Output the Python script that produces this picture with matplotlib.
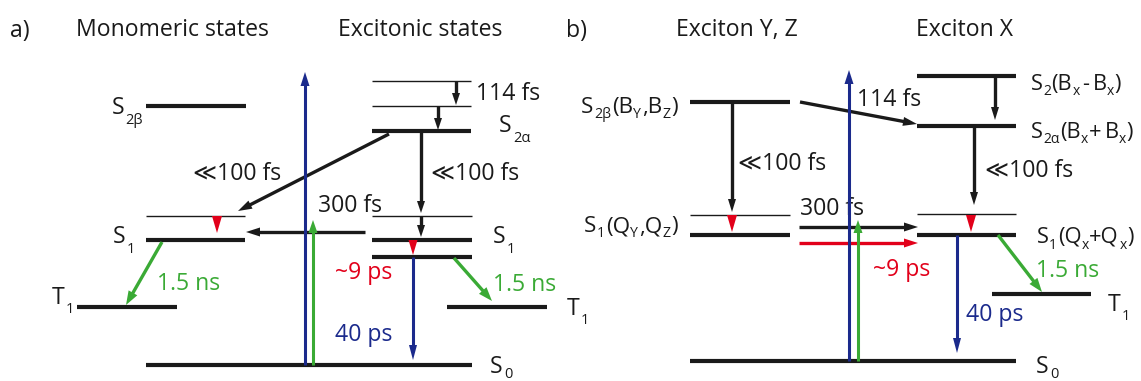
import numpy as np
import matplotlib
matplotlib.use("Agg")
import matplotlib.pyplot as plt
from matplotlib.patches import Polygon

# ---------------------------------------------------------------------------
# Level energies (diagram units, measured upward; 1 unit = 1 px of canvas)
# ---------------------------------------------------------------------------
# a) monomeric states: S2beta, hot S1, S1, T1
a_mono_E = [275, 165, 141, 74]
# a) excitonic states: S2 vib. 2, S2 vib. 1, S2alpha, hot S1, S1, lower S1, T1
a_exc_E = [300, 275, 250, 165, 141, 124, 74]
a_S0 = 16
# b) exciton Y,Z: S2beta, hot S1, S1
b_yz_E = [279, 166, 146]
# b) exciton X: S2(-), S2alpha(+), hot S1, S1, T1
b_x_E = [305, 255, 167, 146, 87]
b_S0 = 20

# pump (blue) and probe (green) photon energies above S0
pump_E = [293, 291]
probe_E = [145, 141]

# time constants
tau_ic2 = "114 fs"
tau_fast = "\u226a100 fs"
tau_et = "300 fs"
tau_relax = "~9 ps"
tau_s1 = "40 ps"
tau_isc = "1.5 ns"

titles_a = ["Monomeric states", "Excitonic states"]
titles_b = ["Exciton Y, Z", "Exciton X"]

# ---------------------------------------------------------------------------
W, H = 1141, 381
fig = plt.figure(figsize=(W / 100, H / 100), dpi=100)
ax = fig.add_axes([0, 0, 1, 1])
ax.set_xlim(0, W)
ax.set_ylim(0, H)
ax.axis("off")

BLACK = "#1a1a1a"
BLUE = "#1b2a8c"
GREEN = "#3aaa35"
RED = "#e2001a"
FAMILY = ["Open Sans", "DejaVu Sans"]
MAIN = 16.6
SUB = 10.5
LW_THICK = 3.0
LW_THIN = 1.0
LW_ARROW = 2.4

renderer = fig.canvas.get_renderer()


def level(x0, x1, E, thick=True):
    ax.plot([x0, x1], [E, E], color=BLACK, lw=LW_THICK if thick else LW_THIN,
            solid_capstyle="butt", zorder=2)


def head(x, y, ux, uy, length, width, color, z):
    bx, by = x - ux * length, y - uy * length
    nx, ny = -uy, ux
    pts = [(x, y), (bx + nx * width / 2, by + ny * width / 2),
           (bx - nx * width / 2, by - ny * width / 2)]
    ax.add_patch(Polygon(pts, closed=True, facecolor=color, edgecolor="none", zorder=z))


def arrow(x0, y0, x1, y1, color=BLACK, lw=LW_ARROW, hl=12, hw=9, z=4):
    d = np.hypot(x1 - x0, y1 - y0)
    ux, uy = (x1 - x0) / d, (y1 - y0) / d
    ax.plot([x0, x1 - ux * hl * 0.8], [y0, y1 - uy * hl * 0.8], color=color, lw=lw,
            solid_capstyle="butt", zorder=z)
    head(x1, y1, ux, uy, hl, hw, color, z)


def text(x, y, s, color=BLACK, ha="left", size=MAIN):
    ax.text(x, y, s, color=color, ha=ha, va="baseline", fontsize=size,
            family=FAMILY, zorder=3)


def rich(x, y, parts, ha="left", drop=10, color=BLACK, gap=1.2, scale=1.0):
    """Label built from main-size and subscript pieces, laid out left to right."""
    arts = []
    for p in parts:
        s, sub = p[0], p[1]
        extra = p[2] if len(p) > 2 else 0
        t = ax.text(0, 0, s, color=color, ha="left", va="baseline",
                    fontsize=(SUB if sub else MAIN) * scale, family=FAMILY, zorder=3)
        arts.append((t, sub, extra))
    widths = [a[0].get_window_extent(renderer).width for a in arts]
    total = sum(widths) + sum(a[2] for a in arts) + gap * (len(arts) - 1)
    cx = x - total if ha == "right" else x
    for (t, sub, extra), w in zip(arts, widths):
        cx += extra
        t.set_position((cx, y - drop if sub else y))
        cx += w + gap


# ---------------------------------------------------------------------------
# Panel a
# ---------------------------------------------------------------------------
text(10, 344, "a)")
text(172, 345, titles_a[0], ha="center")
text(420, 345, titles_a[1], ha="center")

# monomeric levels
level(146, 246, a_mono_E[0])
level(146, 245, a_mono_E[1], thick=False)
level(146, 245, a_mono_E[2])
level(77, 177, a_mono_E[3])
# excitonic levels
level(372, 471, a_exc_E[0], thick=False)
level(372, 471, a_exc_E[1], thick=False)
level(372, 471, a_exc_E[2])
level(372, 472, a_exc_E[3], thick=False)
level(372, 472, a_exc_E[4])
level(372, 472, a_exc_E[5])
level(447, 547, a_exc_E[6])
level(146, 472, a_S0)

# pump and probe
arrow(305, a_S0, 305, a_S0 + pump_E[0], BLUE, lw=2.2, hl=14, hw=9, z=6)
arrow(313, a_S0, 313, a_S0 + probe_E[0], GREEN, lw=2.2, hl=13, hw=9, z=6)

# relaxation within the S2 manifold
arrow(456, a_exc_E[0], 456, a_exc_E[1] + 1, hl=12, hw=8)
arrow(438, a_exc_E[1], 438, a_exc_E[2] + 1, hl=12, hw=8)
# S2alpha -> monomeric hot S1
arrow(389, a_exc_E[2] - 3, 238, a_mono_E[1] + 5, hl=14, hw=9)
# S2alpha -> excitonic S1
arrow(421, a_exc_E[2], 421, a_exc_E[3] + 3, hl=12, hw=8)
arrow(421, a_exc_E[3], 421, a_exc_E[4] + 3, hl=12, hw=8)
# vibrational cooling (red)
head(217, a_mono_E[2] + 7, 0, -1, 17, 10, RED, 5)
head(413, a_exc_E[5] + 2, 0, -1, 15, 9, RED, 5)
# exciton -> monomer transfer
arrow(365, a_mono_E[2] + 8, 246, a_mono_E[2] + 8, hl=14, hw=9)
# intersystem crossing
arrow(162, a_mono_E[2] - 2, 126, a_mono_E[3] + 2, GREEN, hl=14, hw=10)
arrow(454, a_exc_E[5] - 1, 492, a_exc_E[6] + 6, GREEN, hl=14, hw=10)
# S1 decay
arrow(413, a_exc_E[5], 413, a_S0 + 5, BLUE, lw=2.2, hl=15, hw=8)

# labels
rich(143, 267, [("S", 0), ("2\u03b2", 1)], ha="right")
text(476, 281, tau_ic2)
rich(499, 249, [("S", 0), ("2\u03b1", 1)])
text(193, 201, tau_fast)
text(431, 201, tau_fast)
text(318, 169, tau_et)
rich(113, 138, [("S", 0), ("1", 1)])
rich(493, 138, [("S", 0), ("1", 1)])
text(157, 91, tau_isc, color=GREEN)
text(493, 90, tau_isc, color=GREEN)
text(335, 102, tau_relax, color=RED)
text(335, 40, tau_s1, color=BLUE)
rich(52, 77, [("T", 0), ("1", 1)], drop=9)
rich(567, 66, [("T", 0), ("1", 1)], drop=9)
rich(490, 8, [("S", 0), ("0", 1)], drop=5)

# ---------------------------------------------------------------------------
# Panel b
# ---------------------------------------------------------------------------
text(566, 344, "b)")
text(737, 345, titles_b[0], ha="center")
text(964, 345, titles_b[1], ha="center")

level(690, 790, b_yz_E[0])
level(690, 790, b_yz_E[1], thick=False)
level(690, 790, b_yz_E[2])
level(917, 1016, b_x_E[0])
level(917, 1016, b_x_E[1])
level(917, 1016, b_x_E[2], thick=False)
level(917, 1016, b_x_E[3])
level(992, 1091, b_x_E[4])
level(690, 1016, b_S0)

arrow(849, b_S0, 849, b_S0 + pump_E[1], BLUE, lw=2.2, hl=14, hw=9, z=6)
arrow(858, b_S0, 858, b_S0 + probe_E[1], GREEN, lw=2.2, hl=13, hw=9, z=6)

arrow(995, b_x_E[0], 995, b_x_E[1] + 6, hl=13, hw=8)
arrow(800, b_yz_E[0], 917, b_x_E[1] + 2, hl=14, hw=9)
arrow(732, b_yz_E[0], 732, b_yz_E[1] + 3, hl=13, hw=8)
arrow(974, b_x_E[1], 974, b_x_E[2] + 9, hl=13, hw=8)
head(732, b_yz_E[2] + 3, 0, -1, 17, 10, RED, 5)
head(971, b_x_E[3] + 3, 0, -1, 17, 10, RED, 5)
arrow(799, b_yz_E[2] + 8, 918, b_yz_E[2] + 8, hl=14, hw=9)
arrow(799, b_yz_E[2] - 8, 918, b_yz_E[2] - 8, RED, hl=14, hw=9)
arrow(998, b_x_E[3], 1042, b_x_E[4] + 2, GREEN, hl=14, hw=10)
arrow(957, b_x_E[3], 957, b_S0 + 8, BLUE, lw=2.2, hl=15, hw=8)

rich(678, 268, [("S", 0), ("2\u03b2", 1), ("(B", 0), ("Y", 1), (",B", 0), ("Z", 1), (")", 0)],
     ha="right", drop=5, gap=0.6, scale=0.97)
text(857, 275, tau_ic2)
rich(1031, 291, [("S", 0), ("2", 1), ("(B", 0), ("x", 1), ("-", 0, 2), ("B", 0, 3),
                 ("x", 1), (")", 0)], drop=5, gap=0.4, scale=0.95)
rich(1031, 243, [("S", 0), ("2\u03b1", 1), ("(B", 0), ("x", 1), ("+", 0),
                 ("B", 0, 3), ("x", 1), (")", 0)], drop=5, gap=0.4, scale=0.95)
text(738, 211, tau_fast)
text(985, 204, tau_fast)
rich(678, 149, [("S", 0), ("1", 1), ("(Q", 0), ("Y", 1), (",Q", 0), ("Z", 1), (")", 0)],
     ha="right", drop=5, gap=0.6, scale=0.97)
text(800, 166, tau_et)
rich(1037, 138, [("S", 0), ("1", 1), ("(Q", 0), ("x", 1), ("+Q", 0), ("x", 1), (")", 0)],
     drop=6, gap=0.4, scale=0.95)
text(873, 105, tau_relax, color=RED)
text(966, 60, tau_s1, color=BLUE)
text(1036, 104, tau_isc, color=GREEN)
rich(1108, 70, [("T", 0), ("1", 1)], drop=9)
rich(1036, 8, [("S", 0), ("0", 1)], drop=5)

fig.savefig("out.png", dpi=100)
